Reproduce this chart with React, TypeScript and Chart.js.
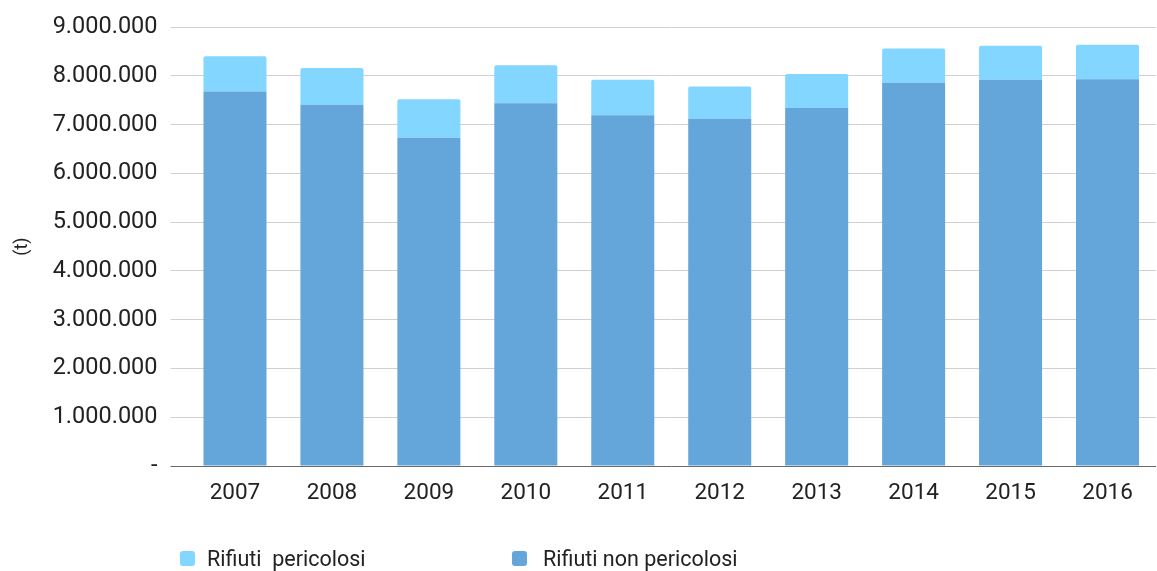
import React, { useEffect, useRef } from "react";
import { Chart, registerables } from "chart.js";

Chart.register(...registerables);

const categories = ["2007", "2008", "2009", "2010", "2011", "2012", "2013", "2014", "2015", "2016"];
const nonPericolosi = [7680000, 7410000, 6730000, 7440000, 7190000, 7120000, 7340000, 7860000, 7920000, 7930000];
const pericolosi = [720000, 750000, 790000, 780000, 730000, 660000, 700000, 700000, 700000, 710000];
const legendLabels = ["Rifiuti  pericolosi", "Rifiuti non pericolosi"];
const yTitle = "(t)";

const LIGHT = "#82D6FF";
const DARK = "#64A5DA";
const FONT = "Roboto";

function fmt(v: number): string {
  if (v === 0) return "-";
  return Math.round(v).toString().replace(/\B(?=(\d{3})+(?!\d))/g, ".");
}

export default function App() {
  const ref = useRef<HTMLCanvasElement | null>(null);

  useEffect(() => {
    const canvas = ref.current;
    if (!canvas) return;
    const chart = new Chart(canvas, {
      type: "bar",
      data: {
        labels: categories,
        datasets: [
          {
            label: legendLabels[1],
            data: nonPericolosi,
            backgroundColor: DARK,
            borderWidth: 0,
            barPercentage: 0.65,
            categoryPercentage: 1,
          },
          {
            label: legendLabels[0],
            data: pericolosi,
            backgroundColor: LIGHT,
            borderWidth: 0,
            borderRadius: { topLeft: 2, topRight: 2, bottomLeft: 0, bottomRight: 0 },
            borderSkipped: false,
            barPercentage: 0.65,
            categoryPercentage: 1,
          },
        ],
      },
      options: {
        responsive: false,
        animation: false,
        layout: { padding: { top: 27, right: 1, bottom: 0, left: 0 } },
        plugins: {
          legend: { display: false },
          tooltip: { enabled: false },
        },
        scales: {
          x: {
            stacked: true,
            grid: { display: false, drawTicks: false },
            border: { display: false },
            ticks: {
              color: "#222",
              font: { family: FONT, size: 22.5 },
              padding: 14,
              maxRotation: 0,
            },
            afterFit: (s: any) => {
              s.height = 105;
            },
          },
          y: {
            stacked: true,
            min: 0,
            max: 9000000,
            grid: {
              color: (ctx: any) => (ctx.tick && ctx.tick.value === 0 ? "#6A6A6A" : "#D0D0D0"),
              lineWidth: 1,
              drawTicks: true,
              tickLength: 16,
            },
            border: { display: false },
            ticks: {
              stepSize: 1000000,
              color: "#222",
              font: { family: FONT, size: 23.5 },
              padding: 13,
              callback: (v: any) => fmt(Number(v)),
            },
            title: {
              display: true,
              text: yTitle,
              color: "#222",
              font: { family: FONT, size: 18 },
              padding: { top: 12, bottom: 0 },
            },
            afterFit: (s: any) => {
              s.width = 186.5;
            },
          },
        },
      },
    });
    return () => chart.destroy();
  }, []);

  const legendItem = (label: string, color: string, boxLeft: number, textLeft: number) => (
    <React.Fragment key={label}>
      <div
        style={{
          position: "absolute",
          left: boxLeft,
          top: 551,
          width: 15,
          height: 15,
          borderRadius: 3,
          background: color,
        }}
      />
      <div
        style={{
          position: "absolute",
          left: textLeft,
          top: 559,
          transform: "translateY(-50%)",
          fontFamily: FONT,
          fontSize: 21.5,
          color: "#222",
          whiteSpace: "pre",
          lineHeight: 1,
        }}
      >
        {label}
      </div>
    </React.Fragment>
  );

  return (
    <div
      style={{
        position: "fixed",
        left: 0,
        top: 0,
        width: 1157,
        height: 571,
        background: "#fff",
        overflow: "hidden",
      }}
    >
      <canvas ref={ref} width={1157} height={571} style={{ display: "block" }} />
      {legendItem(legendLabels[0], LIGHT, 180, 207)}
      {legendItem(legendLabels[1], DARK, 512, 543)}
    </div>
  );
}
